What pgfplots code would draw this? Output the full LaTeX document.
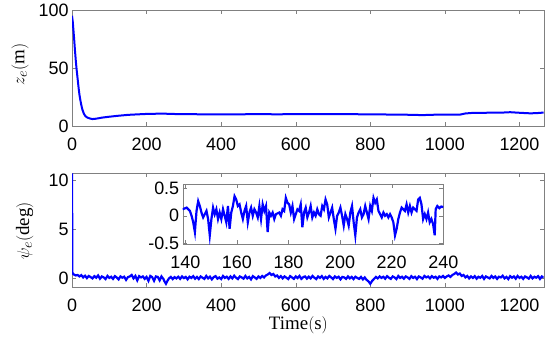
\documentclass[border=0pt]{standalone}
\usepackage{pgfplots}
\pgfplotsset{compat=1.18}
\usepackage{fontspec}
\setmainfont{Liberation Sans}
\newfontfamily\timesf{Liberation Serif}
\definecolor{mblue}{RGB}{0,0,255}
\definecolor{frame}{RGB}{128,128,128}
\newcommand\tl[1]{\fontsize{18}{18}\selectfont #1}
\newcommand\tx[1]{\fontsize{18}{18}\selectfont\rule{0pt}{21bp}#1}
\newcommand\lb[1]{\fontsize{19}{19}\selectfont\timesf #1}
\pgfplotsset{
  mat/.style={
    scale only axis,
    anchor=north west,
    axis line style={draw=frame},
    every tick/.style={draw=frame},
    major tick length=4bp,
    tick align=inside,
    clip=true,
  },
  tlx/.style={xtick={0,200,...,1200},
    xticklabels={\tx{0},\tx{200},\tx{400},\tx{600},\tx{800},\tx{1000},\tx{1200}}},
}
\begin{document}
\begin{tikzpicture}
\useasboundingbox (0bp,0bp) rectangle (550bp,-347bp);
% ---------------- top panel
\begin{axis}[mat, tlx,
  at={(72bp,-10bp)}, width=471.7bp, height=116bp,
  xmin=0, xmax=1265, ymin=0, ymax=100,
  ytick={0,50,100}, yticklabels={\tl{0},\tl{50},\tl{100}},
  ylabel={\lb{$z_e\big($m$\big)$}},
  ylabel style={at={(axis description cs:-0.11,0.53)}, anchor=center},
]
\addplot[mblue, line width=2bp] coordinates {
(0,95) (2,90) (4,82) (6,74) (8,65) (10,57) (12,50) (14,44) (16,38) (18,32) (20,27)
(22,23) (25,18) (28,14) (32,10.5) (36,8.5) (40,7.5) (45,6.8) (50,6.3) (55,6.0) (60,6.1)
(70,6.6) (80,7.2) (100,8.0) (120,8.7) (150,9.6) (180,10.1) (200,10.4) (230,10.6) (250,10.6)
(280,10.3) (300,10.2) (350,10.1) (400,10.0) (450,10.1) (500,10.2) (550,10.1) (600,10.2)
(650,10.3) (700,10.3) (750,10.2) (800,10.0) (850,9.9) (900,9.7) (940,9.4) (970,9.7)
(1000,9.8) (1040,9.8) (1055,10.8) (1070,11.2) (1100,11.4) (1150,11.5) (1175,11.9)
(1200,11.4) (1230,10.9) (1250,11.2) (1265,11.6)
};
\end{axis}
% ---------------- bottom panel
\begin{axis}[mat, tlx,
  at={(72bp,-173.3bp)}, width=471.7bp, height=113.4bp,
  xmin=0, xmax=1265, ymin=-0.9, ymax=10.7,
  ytick={0,5,10}, yticklabels={\tl{0},\tl{5},\tl{10}},
  ylabel={\lb{$\psi_e\big($deg$\big)$}},
  ylabel style={at={(axis description cs:-0.10,0.49)}, anchor=center},
  xlabel={\lb{Time$\big($s$\big)$}},
  xlabel style={at={(axis description cs:0.48,-0.34)}, anchor=center, inner sep=0pt},
]
\addplot[mblue, line width=2.2bp] coordinates {
(0,10.7) (1,0.6) (2,0.45) (5,0.35) (10,0.25) (15,0.3) (20,0.15) (25,0.28) (30,0.05) (35,0.22)
(40,-0.02) (45,0.2) (50,0.08) (55,-0.05) (60,0.18) (65,0.02) (70,0.25) (75,-0.08) (80,0.15)
(85,0.05) (90,-0.12) (95,0.2) (100,0.0) (105,0.12) (110,-0.1) (115,0.18) (120,0.04) (125,-0.15)
(130,0.15) (135,0.02) (140,0.12) (145,-0.2) (150,0.08) (155,0.15) (160,0.3) (165,-0.05) (170,0.2)
(175,-0.25) (180,0.18) (185,0.05) (190,0.15) (195,-0.1) (200,0.1) (205,-0.3) (210,0.2) (215,0.08)
(220,-0.3) (225,0.15) (230,0.1) (235,-0.25) (240,0.15) (245,-0.1) (248,-0.35) (252,-0.6) (256,-0.3)
(260,-0.05) (265,0.1) (270,-0.12) (275,0.08) (280,-0.05) (285,0.12) (290,-0.1) (295,0.15) (300,-0.02)
(305,0.1) (310,-0.15) (315,0.12) (320,0.0) (325,0.18) (330,-0.08) (335,0.1) (340,-0.12) (345,0.15)
(350,0.02) (355,-0.1) (360,0.2) (365,-0.05) (370,0.12) (375,-0.15) (380,0.08) (385,0.18) (390,-0.08)
(395,0.05) (400,-0.12) (405,0.2) (410,0.0) (415,0.12) (420,-0.1) (425,0.15) (430,-0.05) (435,0.22)
(440,0.02) (445,-0.12) (450,0.15) (455,0.05) (460,-0.08) (465,0.2) (470,-0.05) (475,0.1) (480,-0.15)
(485,0.18) (490,0.05) (495,-0.1) (500,0.15) (505,0.0) (510,0.2) (515,0.05) (520,0.25) (525,0.35)
(530,0.5) (535,0.3) (540,0.4) (545,0.15) (550,0.25) (555,0.0) (560,0.18) (565,-0.05) (570,0.15)
(575,0.02) (580,-0.12) (585,0.18) (590,0.05) (595,-0.1) (600,0.15) (605,-0.02) (610,0.2) (615,-0.1)
(620,0.08) (625,0.15) (630,-0.08) (635,0.12) (640,-0.05) (645,0.2) (650,0.02) (655,-0.12) (660,0.15)
(665,0.0) (670,0.18) (675,-0.1) (680,0.1) (685,-0.05) (690,0.2) (695,0.05) (700,-0.12) (705,0.15)
(710,0.0) (715,0.12) (720,-0.15) (725,0.1) (730,0.05) (735,-0.1) (740,0.15) (745,-0.05) (750,0.1)
(755,-0.12) (760,0.12) (765,0.0) (770,-0.1) (775,0.1) (780,-0.15) (785,0.05) (790,-0.2) (795,-0.35)
(800,-0.6) (805,-0.3) (810,-0.1) (815,0.1) (820,-0.05) (825,0.15) (830,0.0) (835,0.12) (840,-0.08)
(845,0.18) (850,0.02) (855,-0.1) (860,0.15) (865,0.05) (870,-0.12) (875,0.2) (880,0.0) (885,0.12)
(890,-0.08) (895,0.15) (900,0.05) (905,-0.1) (910,0.18) (915,0.0) (920,0.12) (925,-0.12) (930,0.15)
(935,0.05) (940,-0.08) (945,0.2) (950,0.05) (955,0.15) (960,-0.05) (965,0.18) (970,0.02) (975,0.12)
(980,-0.1) (985,0.15) (990,0.05) (995,0.2) (1000,0.0) (1005,0.15) (1010,0.25) (1015,0.1) (1020,0.3)
(1025,0.4) (1030,0.55) (1035,0.35) (1040,0.45) (1045,0.2) (1050,0.3) (1055,0.05) (1060,0.2) (1065,-0.05)
(1070,0.15) (1075,0.0) (1080,0.18) (1085,-0.08) (1090,0.12) (1095,0.02) (1100,0.2) (1105,-0.1) (1110,0.15)
(1115,0.05) (1120,-0.05) (1125,0.2) (1130,0.0) (1135,0.15) (1140,-0.1) (1145,0.12) (1150,0.05) (1155,0.22)
(1160,-0.05) (1165,0.1) (1170,-0.12) (1175,0.18) (1180,0.02) (1185,0.15) (1190,-0.08) (1195,0.2) (1200,0.0)
(1205,0.12) (1210,-0.1) (1215,0.15) (1220,0.05) (1225,-0.08) (1230,0.2) (1235,-0.05) (1240,0.12) (1245,0.02)
(1250,0.18) (1255,-0.1) (1260,0.15) (1265,0.05)
};
\end{axis}
% ---------------- inset
\begin{axis}[mat,
  at={(182.7bp,-184.3bp)}, width=260.6bp, height=59.7bp,
  xmin=139, xmax=240, ymin=-0.52, ymax=0.58,
  xtick={140,160,...,240},
  xticklabels={\tx{140},\tx{160},\tx{180},\tx{200},\tx{220},\tx{240}},
  ytick={-0.5,0,0.5},
  yticklabels={\tl{-0.5},\tl{0},\tl{0.5}},
  axis background/.style={fill=white},
]
\addplot[mblue, line width=2.2bp] coordinates {
(139.0,0.12) (140.51,0.15) (141.79,0.09) (142.44,0) (143.08,-0.12) (143.72,-0.3) (144.36,0.09)
(145.00,0.27) (145.64,0.18) (146.28,0.06) (146.92,-0.03) (148.21,0.09) (148.85,-0.06) (149.49,-0.36)
(150.13,-0.06) (150.77,0.15) (151.41,0.03) (152.05,0.12) (152.69,-0.06) (153.33,0.06) (153.97,-0.06)
(154.62,0.12) (155.26,0) (155.90,-0.12) (156.54,0.18) (157.18,-0.24) (157.82,0.06) (158.46,0.18)
(159.10,0.36) (159.74,0.3) (160.38,0.18) (161.03,0.21) (161.67,0.06) (162.31,-0.06) (162.95,0.09)
(163.59,0.18) (164.23,-0.12) (164.87,0.06) (165.51,0.15) (166.15,0) (166.79,0.12) (167.44,0.06)
(168.08,-0.03) (168.72,0.18) (169.36,-0.06) (170.00,0.21) (170.64,0.09) (171.28,0.18) (171.92,-0.3)
(172.56,0.06) (173.21,0) (173.85,0.06) (174.49,-0.06) (175.13,0.03) (176.41,0.06) (177.05,0)
(177.69,0.12) (178.33,0.09) (178.97,0.33) (179.62,0.24) (180.26,0.21) (180.90,0.06) (181.54,0.18)
(182.18,-0.06) (182.82,0.03) (183.46,0.12) (184.10,0.09) (184.74,0.21) (185.38,-0.21) (186.03,0.06)
(186.67,0.15) (187.31,-0.03) (187.95,0.06) (188.59,0.18) (189.23,-0.03) (189.87,0.06) (190.51,0)
(191.15,0.12) (191.79,0.03) (192.44,0) (193.08,0.18) (193.72,0.12) (194.36,0.3) (195.00,0.21)
(195.64,-0.03) (196.28,0.06) (196.92,0.15) (197.56,-0.06) (198.21,-0.24) (198.85,0) (199.49,0.06)
(200.13,0.15) (200.77,0) (201.41,-0.18) (202.05,0.03) (202.69,-0.06) (203.33,-0.18) (203.97,0.06)
(204.62,0.18) (205.26,-0.12) (205.90,-0.36) (206.54,-0.03) (207.18,0.06) (207.82,0.12) (208.46,-0.03)
(209.10,0.03) (209.74,0.18) (210.38,0.06) (211.03,-0.06) (211.67,0.18) (212.31,0.09) (212.95,0.33)
(213.59,0.24) (214.23,0.3) (214.87,0.09) (215.51,0.03) (216.15,-0.03) (216.79,0.06) (217.44,0)
(218.08,0.03) (218.72,-0.03) (219.36,0.03) (220.00,-0.03) (220.64,-0.12) (221.28,-0.36) (221.92,-0.24)
(222.56,-0.06) (223.21,0.06) (223.85,0.15) (224.49,0.12) (225.13,0.09) (225.77,0.21) (226.41,0.06)
(227.05,0.18) (227.69,0.06) (228.33,0.15) (228.97,0.12) (229.62,0.09) (230.26,0.3) (230.90,0.33)
(231.54,0.21) (232.18,-0.06) (232.82,0.03) (233.46,-0.06) (234.10,0.06) (234.74,-0.12) (235.38,-0.06)
(236.03,-0.15) (236.67,-0.36) (237.05,0.12) (237.69,0.18) (238.5,0.14) (239.2,0.17) (240,0.16)
};
\end{axis}
\end{tikzpicture}
\end{document}
